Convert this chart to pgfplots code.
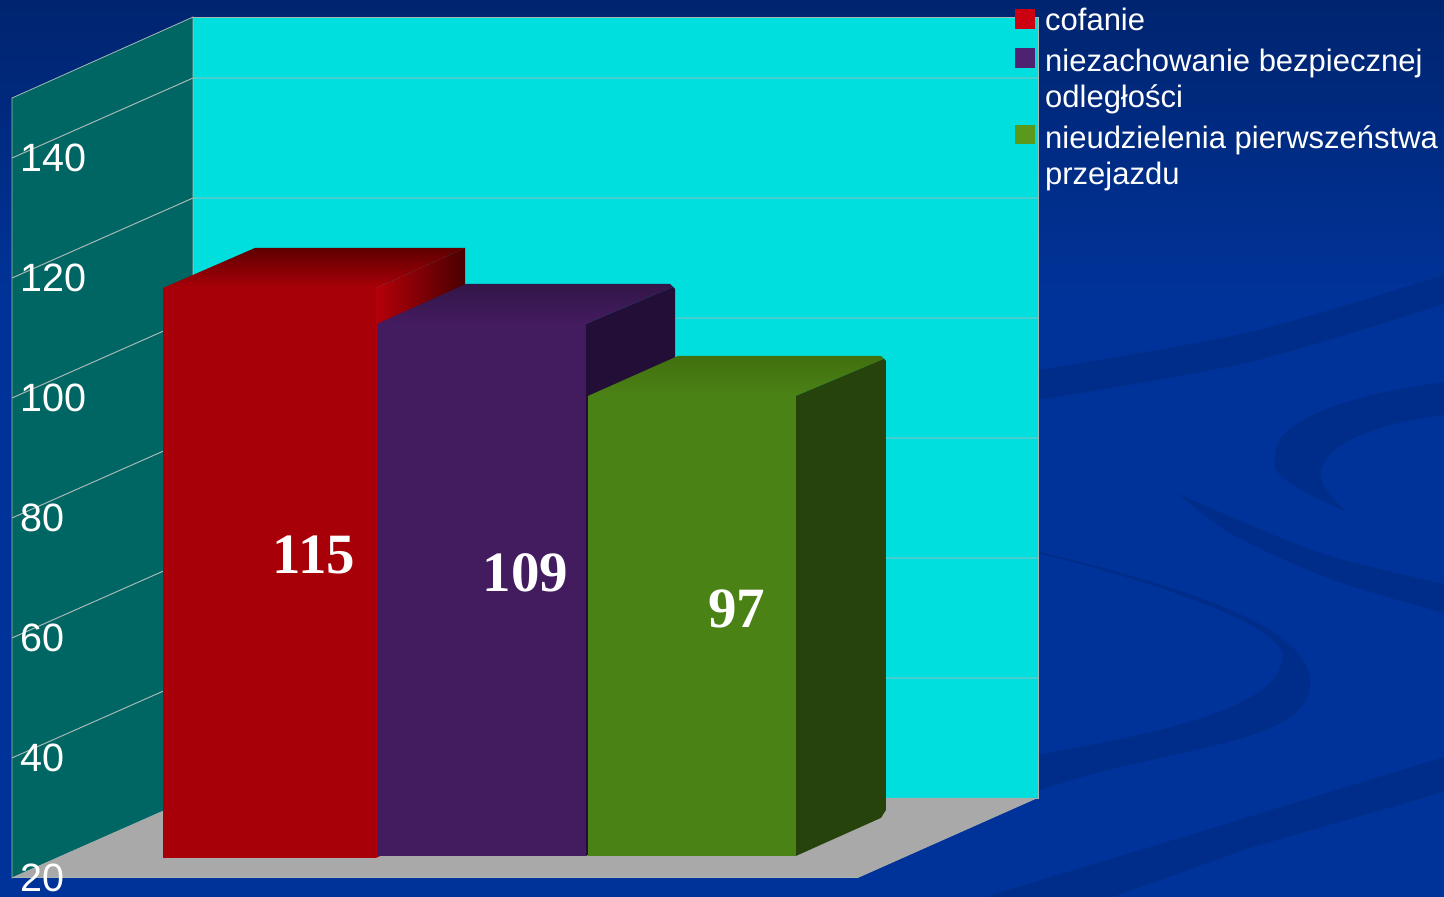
\documentclass[border=0pt]{standalone}
\usepackage{pgfplots}
\pgfplotsset{compat=1.18}
\usepackage{fontspec}
\setmainfont{Liberation Sans}
\newfontfamily\serifb{Liberation Serif}
\definecolor{bgblue}{HTML}{003399}
\definecolor{bgtop}{HTML}{00246F}
\definecolor{sw}{HTML}{002D8A}
\definecolor{wallL}{HTML}{006663}
\definecolor{wallB}{HTML}{00DEDE}
\definecolor{floorc}{HTML}{A9A9A9}
\definecolor{gridL}{HTML}{A6B8B6}
\definecolor{gridB}{HTML}{45CFCF}
\definecolor{redF}{HTML}{A80008}
\definecolor{redT}{HTML}{5E0000}
\definecolor{redS}{HTML}{4A0000}
\definecolor{redM}{HTML}{B4000A}
\definecolor{purF}{HTML}{431B5F}
\definecolor{purT}{HTML}{331648}
\definecolor{purS}{HTML}{230E38}
\definecolor{grnF}{HTML}{4B8215}
\definecolor{grnT}{HTML}{41700F}
\definecolor{grnS}{HTML}{25430A}
\definecolor{legR}{HTML}{CC0010}
\definecolor{legP}{HTML}{4E2270}
\definecolor{legG}{HTML}{5A991C}
\pgfplotsset{common/.style={
  scale only axis, width=1444pt, height=897pt,
  xmin=0, xmax=1444, clip=true}}
\begin{document}
\begin{tikzpicture}
% background
\fill[bgblue] (0,0) rectangle (1444pt,897pt);
\shade[top color=bgtop, bottom color=bgblue] (0,597pt) rectangle (1444pt,897pt);
\begin{scope}[x=1pt,y=-1pt,yshift=897pt]
\fill[sw] plot[smooth] coordinates {(1039,370) (1250,332) (1444,275)} -- plot[smooth] coordinates {(1444,304) (1250,362) (1039,400)} -- cycle;
\fill[sw] plot[smooth,tension=0.7] coordinates {(1444,382) (1360,398) (1295,425) (1275,456) (1287,481) (1347,512)} -- plot[smooth,tension=0.7] coordinates {(1347,512) (1322,481) (1333,452) (1380,428) (1444,415)} -- cycle;
\fill[sw] plot[smooth] coordinates {(1177,493) (1250,525) (1333,557) (1444,584)} -- plot[smooth] coordinates {(1444,613) (1333,580) (1233,535) (1177,493)} -- cycle;
\filldraw[sw, line width=0.8pt] (1039,552) .. controls (1150,580) and (1310,620) .. (1310,683) .. controls (1310,745) and (1170,745) .. (1039,790) -- (1039,755) .. controls (1150,735) and (1283,710) .. (1283,656) .. controls (1283,625) and (1150,580) .. (1039,553) -- cycle;
\fill[sw] (985,897) -- (1200,832) -- (1444,757) -- (1444,792) -- (1250,848) -- (1113,897) -- cycle;
\end{scope}
% walls, floor, value axis
\begin{axis}[common,
  ymin=16.8333, ymax=166.3333,
  axis on top,
  axis line style={draw=none},
  xtick=\empty,
  ytick={20,40,60,80,100,120,140},
  major tick length=0pt,
  /pgf/number format/assume math mode=true,
  yticklabel style={anchor=west, xshift=20pt, inner sep=0pt, text=white,
    font=\fontsize{39.5}{44}\selectfont},
]
\addplot[fill=wallB, draw=gridL, line width=0.8pt] coordinates {(193,33.33) (1038,33.33) (1038,163.5) (193,163.5)} --cycle;
\addplot[fill=wallL, draw=gridL, line width=0.8pt] coordinates {(12,20) (193,33.33) (193,163.5) (12,150)} --cycle;
\addplot[fill=floorc, draw=none] coordinates {(12,20) (858,20) (1038,33.33) (193,33.33)} --cycle;
\addplot[draw=gridL, line width=0.8pt] coordinates {(12,20) (858,20)};
\pgfplotsinvokeforeach{40,60,80,100,120,140}{
  \addplot[draw=gridL, line width=1pt] coordinates {(12,#1) (193,#1+13.33)};
}
\addplot[draw=gridB, line width=1.2pt] coordinates {(193,53.33) (1038,53.33)};
\addplot[draw=gridB, line width=1.2pt] coordinates {(193,73.33) (1038,73.33)};
\addplot[draw=gridB, line width=1.2pt] coordinates {(193,93.33) (1038,93.33)};
\addplot[draw=gridB, line width=1.2pt] coordinates {(193,113.33) (1038,113.33)};
\addplot[draw=gridB, line width=1.2pt] coordinates {(193,133.33) (1038,133.33)};
\addplot[draw=gridB, line width=1.2pt] coordinates {(193,153.33) (1038,153.33)};
\end{axis}
% bars
\begin{axis}[common,
  ymin=13.5, ymax=163,
  hide axis,
]
% red
\addplot[forget plot, shade, top color=redT, bottom color=redF, draw=none] coordinates {(163,115) (376,115) (465,121.67) (255,121.67)} --cycle;
\addplot[forget plot, shade, left color=redM, right color=redS, draw=none] coordinates {(376,115) (465,121.67) (465,26.67) (376,20)} --cycle;
\addplot[fill=redF, draw=none] coordinates {(163,20) (163,115) (376,115) (376,20)} --cycle;
% purple
\addplot[forget plot, shade, top color=purT, bottom color=purF, draw=none] coordinates {(377,109) (586,109) (673,115.17) (670,115.67) (466,115.67)} --cycle;
\addplot[forget plot, fill=purS, draw=none] coordinates {(586,109) (673,115.17) (675,114.83) (675,27) (586,20.33)} --cycle;
\addplot[fill=purF, draw=none] coordinates {(377,20.33) (377,109) (586,109) (586,20.33)} --cycle;
% green
\addplot[forget plot, shade, top color=grnT, bottom color=grnF, draw=none] coordinates {(588,97) (796,97) (884,103.17) (881,103.67) (678,103.67)} --cycle;
\addplot[forget plot, fill=grnS, draw=none] coordinates {(796,97) (884,103.17) (886,102.83) (886,28) (881,26.67) (796,20.33)} --cycle;
\addplot[fill=grnF, draw=none] coordinates {(588,20.33) (588,97) (796,97) (796,20.33)} --cycle;
\node[text=white, font=\fontsize{57}{60}\selectfont\serifb\bfseries] at (axis cs:314,70.5) {115};
\node[text=white, font=\fontsize{57}{60}\selectfont\serifb\bfseries] at (axis cs:525.5,67.5) {109};
\node[text=white, font=\fontsize{57}{60}\selectfont\serifb\bfseries] at (axis cs:736.5,61.5) {97};
\end{axis}
% legend
\begin{scope}[x=1pt,y=-1pt,yshift=897pt,
  lt/.style={anchor=base west, inner sep=0pt, text=white, font=\fontsize{31}{36}\selectfont}]
\fill[legR] (1015,9.5) rectangle (1035,29);
\fill[legP] (1015,48) rectangle (1035,68);
\fill[legG] (1015,125) rectangle (1035,144);
\node[lt] at (1045,31) {cofanie};
\node[lt] at (1045,72) {niezachowanie bezpiecznej};
\node[lt] at (1045,108) {odległości};
\node[lt] at (1045,149) {nieudzielenia pierwszeństwa};
\node[lt] at (1045,185) {przejazdu};
\end{scope}
\end{tikzpicture}
\end{document}
